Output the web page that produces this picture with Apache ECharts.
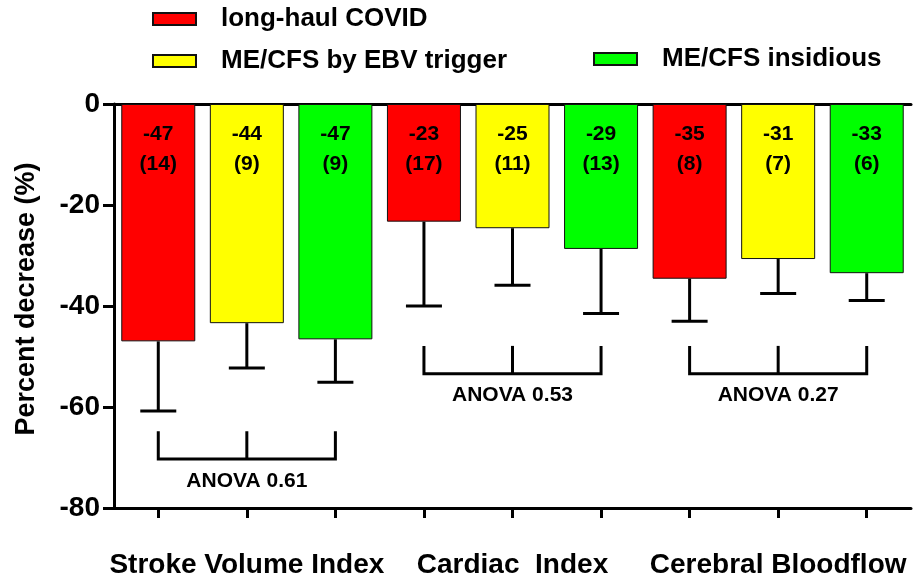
<!DOCTYPE html>
<html><head><meta charset="utf-8">
<script src="https://cdn.jsdelivr.net/npm/echarts@6/dist/echarts.min.js"></script>
<style>html,body{margin:0;padding:0;background:#fff}#c{width:916px;height:579px}</style>
</head><body><div id="c"></div>
<script>
const groups = ['Stroke Volume Index', 'Cardiac  Index', 'Cerebral Bloodflow'];
const seriesNames = ['long-haul COVID', 'ME/CFS by EBV trigger', 'ME/CFS insidious'];
const colors = ['#ff0000', '#ffff00', '#00ff00'];
// bar order: per group -> long-haul COVID, ME/CFS by EBV, ME/CFS insidious
const barValues = [-47.0, -43.4, -46.6, -23.3, -24.6, -28.7, -34.6, -30.7, -33.5];
const errorLow  = [-60.8, -52.3, -55.1, -40.0, -35.9, -41.5, -43.0, -37.5, -38.9];
const meanLabels = ['-47', '-44', '-47', '-23', '-25', '-29', '-35', '-31', '-33'];
const nLabels = ['(14)', '(9)', '(9)', '(17)', '(11)', '(13)', '(8)', '(7)', '(6)'];
const anovaLabels = ['ANOVA 0.61', 'ANOVA 0.53', 'ANOVA 0.27'];
const bracketLevel = [-70.3, -53.4, -53.4];
const bracketTop = [-64.8, -47.9, -47.9];
const yTicks = [-80, -60, -40, -20, 0];

const FONT = '"Liberation Sans", Arial, sans-serif';
const categories = [];
groups.forEach(g => seriesNames.forEach(s => categories.push(g + ' | ' + s)));

const barSeries = seriesNames.map((name, s) => ({
  name: name,
  type: 'bar',
  xAxisIndex: 0,
  barWidth: 74,
  barGap: '-100%',
  itemStyle: { color: colors[s], borderColor: '#111', borderWidth: 1 },
  data: barValues.map((v, i) => (i % 3 === s ? v : '-')),
  label: {
    show: true,
    position: 'insideTop',
    distance: 15,
    formatter: p => meanLabels[p.dataIndex] + '\n' + nLabels[p.dataIndex],
    fontSize: 21, fontWeight: 'bold', lineHeight: 30, color: '#000', fontFamily: FONT
  },
  emphasis: { disabled: true }
}));

const errSeries = {
  type: 'custom',
  name: 'err',
  xAxisIndex: 0,
  z: 5,
  data: barValues.map((v, i) => [i, v, errorLow[i]]),
  encode: { x: 0, y: [1, 2] },
  renderItem: (params, api) => {
    const i = api.value(0);
    const a = api.coord([i, api.value(1)]);
    const b = api.coord([i, api.value(2)]);
    const hw = 18;
    return { type: 'group', children: [
      { type: 'line', shape: { x1: a[0], y1: a[1], x2: b[0], y2: b[1] }, style: { stroke: '#000', lineWidth: 3 } },
      { type: 'line', shape: { x1: b[0] - hw, y1: b[1], x2: b[0] + hw, y2: b[1] }, style: { stroke: '#000', lineWidth: 3 } }
    ]};
  }
};

const bracketSeries = {
  type: 'custom',
  name: 'anova',
  xAxisIndex: 0,
  z: 5,
  data: anovaLabels.map((t, g) => [g * 3, g * 3 + 1, g * 3 + 2, bracketLevel[g], bracketTop[g]]),
  encode: { x: [0, 1, 2], y: [3, 4] },
  renderItem: (params, api) => {
    const lv = api.value(3), tp = api.value(4);
    const s0 = api.coord([api.value(0), tp]), s1 = api.coord([api.value(0), lv]);
    const e0 = api.coord([api.value(2), tp]), e1 = api.coord([api.value(2), lv]);
    const m0 = api.coord([api.value(1), tp]), m1 = api.coord([api.value(1), lv]);
    const st = { stroke: '#000', lineWidth: 3, fill: null };
    return { type: 'group', children: [
      { type: 'polyline', shape: { points: [s0, s1, e1, e0] }, style: st },
      { type: 'line', shape: { x1: m0[0], y1: m0[1], x2: m1[0], y2: m1[1] }, style: st },
      { type: 'text', style: { text: anovaLabels[params.dataIndex], x: m1[0], y: m1[1] + 22,
        align: 'center', verticalAlign: 'middle', fill: '#000',
        font: 'bold 21px ' + FONT } }
    ]};
  }
};

const legendCommon = {
  itemWidth: 43, itemHeight: 12, icon: 'rect', padding: 0, selectedMode: false,
  textStyle: { fontSize: 26, fontWeight: 'bold', color: '#000', fontFamily: FONT, padding: [0, 0, 0, 20] }
};

const option = {
  animation: false,
  backgroundColor: '#fff',
  textStyle: { fontFamily: FONT },
  legend: [
    Object.assign({ data: [seriesNames[0]], left: 152, top: 6 }, legendCommon),
    Object.assign({ data: [seriesNames[1]], left: 152, top: 48 }, legendCommon),
    Object.assign({ data: [seriesNames[2]], left: 593, top: 46 }, legendCommon)
  ],
  grid: { left: 114, top: 104, width: 797, height: 407, containLabel: false },
  xAxis: [
    {
      type: 'category', data: categories, position: 'bottom',
      axisLine: { onZero: false, lineStyle: { color: '#000', width: 3 } },
      axisTick: { show: true, alignWithLabel: true, interval: 0, length: 10, lineStyle: { color: '#000', width: 3 } },
      axisLabel: {
        interval: 0, margin: 43, fontSize: 28, fontWeight: 'bold', color: '#000', fontFamily: FONT,
        formatter: (v, idx) => (idx % 3 === 1 ? groups[(idx - 1) / 3] : '')
      },
      splitLine: { show: false }
    },
    {
      type: 'category', data: categories, position: 'top',
      axisLine: { onZero: false, lineStyle: { color: '#000', width: 3 } },
      axisTick: { show: false }, axisLabel: { show: false }, splitLine: { show: false }
    }
  ],
  yAxis: {
    type: 'value', min: yTicks[0], max: yTicks[yTicks.length - 1], interval: yTicks[1] - yTicks[0],
    name: 'Percent decrease (%)', nameLocation: 'middle', nameGap: 74,
    nameTextStyle: { fontSize: 27, fontWeight: 'bold', color: '#000', fontFamily: FONT, padding: [0, 0, 0, 14] },
    axisLine: { show: true, lineStyle: { color: '#000', width: 3 } },
    axisTick: { show: true, length: 11, lineStyle: { color: '#000', width: 3 } },
    axisLabel: { fontSize: 28, fontWeight: 'bold', color: '#000', margin: 14, fontFamily: FONT },
    splitLine: { show: false }
  },
  series: barSeries.concat([errSeries, bracketSeries])
};

const chart = echarts.init(document.getElementById('c'), null, { renderer: 'canvas' });
chart.setOption(option);
</script>
</body></html>
